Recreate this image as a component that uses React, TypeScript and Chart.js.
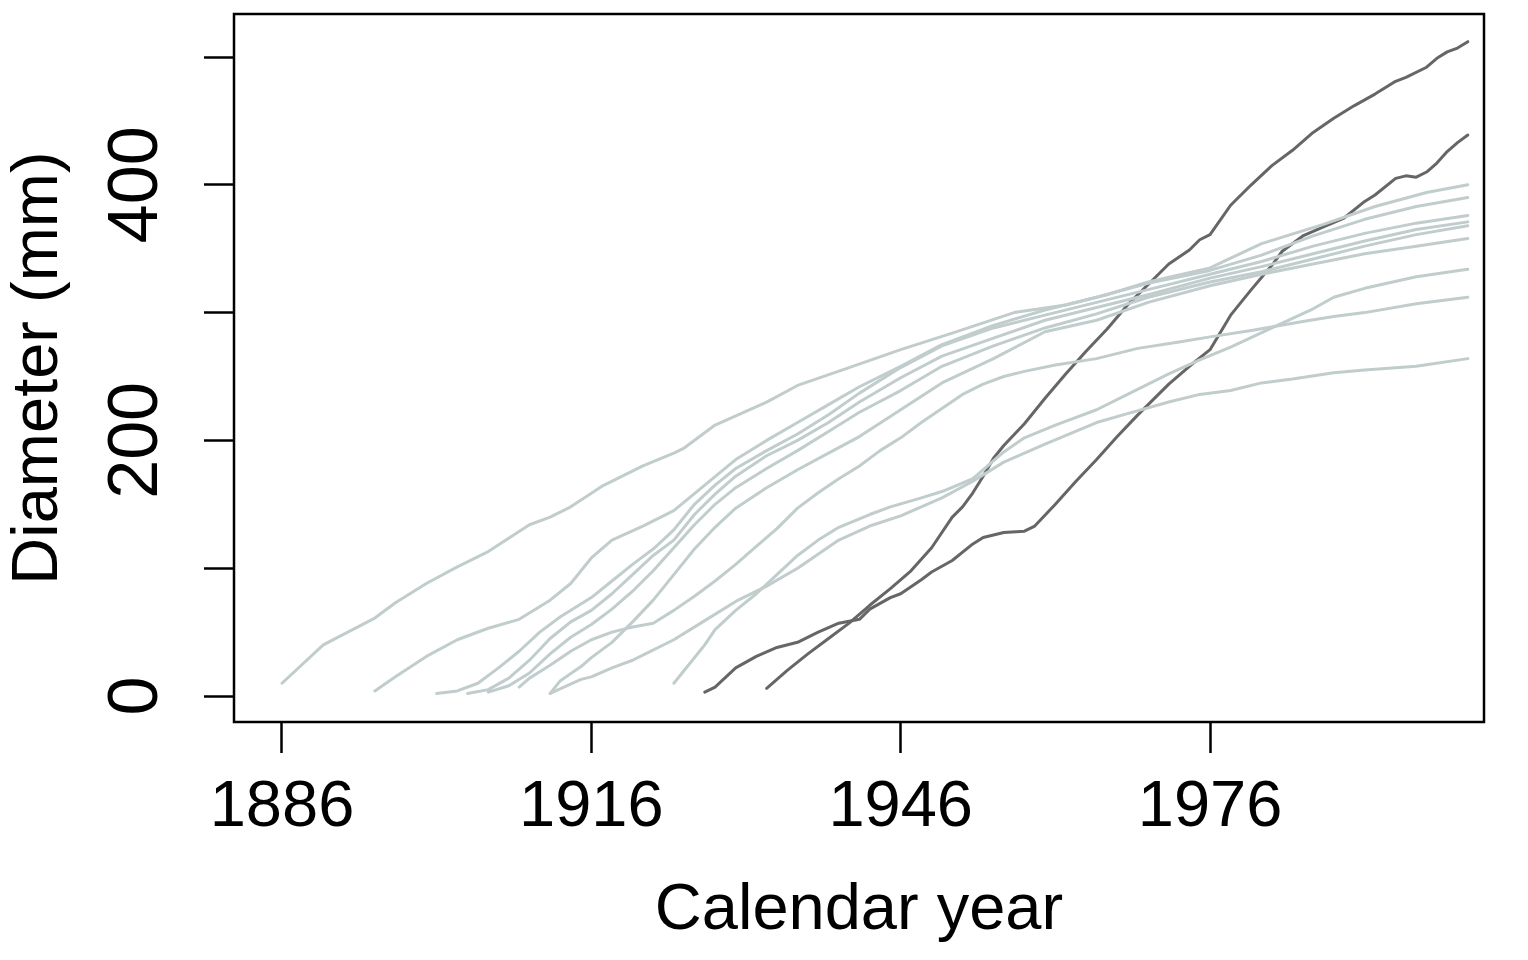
import React, { useEffect, useRef } from 'react';
import { Chart, registerables } from 'chart.js';

Chart.register(...registerables);

// ---- axis ticks ----
const xTickValues = [1886, 1916, 1946, 1976];
const yTickValues = [0, 100, 200, 300, 400, 500];
const yLabelValues = [0, 200, 400];

// ---- grey trees (year, diameter mm) ----
const g1Years = [1886, 1890, 1895, 1897, 1900, 1903, 1906, 1910, 1912, 1914, 1917, 1921, 1924, 1925, 1928, 1933, 1936, 1941, 1946, 1951, 1957, 1962, 1966, 1970, 1976, 1981, 1987, 1992, 1997, 2001];
const g1Vals = [10, 40, 61, 73, 88, 101, 113, 134, 140, 148, 164, 180, 190, 194, 212, 230, 243, 257, 271, 284, 300, 306, 314, 324, 335, 354, 369, 383, 394, 400];

const g2Years = [1895, 1897, 1900, 1903, 1906, 1909, 1912, 1914, 1916, 1918, 1921, 1924, 1927, 1930, 1933, 1936, 1939, 1942, 1946, 1950, 1955, 1960, 1965, 1970, 1976, 1981, 1986, 1991, 1996, 2001];
const g2Vals = [4, 15, 31, 44, 53, 60, 75, 88, 108, 122, 133, 145, 165, 185, 200, 214, 228, 242, 258, 275, 290, 302, 312, 323, 333, 345, 360, 373, 383, 390];

const g3Years = [1901, 1903, 1905, 1907, 1909, 1911, 1913, 1916, 1918, 1920, 1922, 1924, 1926, 1928, 1930, 1933, 1936, 1939, 1942, 1946, 1950, 1955, 1960, 1965, 1970, 1976, 1981, 1986, 1991, 1996, 2001];
const g3Vals = [2, 4, 10, 22, 35, 50, 62, 77, 90, 103, 115, 130, 150, 165, 178, 192, 205, 220, 237, 257, 274, 288, 298, 308, 318, 330, 340, 352, 362, 370, 376];

const g4Years = [1904, 1906, 1908, 1910, 1912, 1914, 1916, 1918, 1920, 1922, 1924, 1926, 1928, 1930, 1933, 1936, 1939, 1942, 1946, 1950, 1955, 1960, 1965, 1970, 1976, 1981, 1986, 1991, 1996, 2001];
const g4Vals = [2, 5, 14, 28, 45, 58, 67, 80, 95, 110, 122, 142, 158, 172, 188, 200, 214, 230, 249, 266, 280, 294, 304, 314, 327, 336, 346, 356, 365, 371];

const g5Years = [1906, 1908, 1910, 1912, 1914, 1916, 1918, 1920, 1922, 1924, 1926, 1928, 1930, 1933, 1936, 1939, 1942, 1946, 1950, 1955, 1960, 1965, 1970, 1976, 1981, 1986, 1991, 1996, 2001];
const g5Vals = [3, 8, 18, 33, 46, 56, 68, 82, 98, 116, 134, 150, 163, 178, 192, 207, 222, 239, 258, 274, 288, 299, 312, 324, 332, 342, 352, 361, 368];

const g6Years = [1909, 1910, 1911, 1912, 1914, 1916, 1918, 1920, 1922, 1924, 1926, 1928, 1930, 1932, 1934, 1936, 1938, 1940, 1942, 1944, 1946, 1948, 1950, 1952, 1954, 1956, 1958, 1961, 1965, 1969, 1973, 1976, 1980, 1985, 1988, 1991, 1996, 2001];
const g6Vals = [7, 14, 19, 24, 35, 44, 50, 54, 57, 67, 78, 90, 103, 117, 131, 147, 159, 170, 180, 192, 202, 214, 225, 236, 244, 250, 254, 259, 264, 272, 277, 281, 286, 293, 297, 300, 307, 312];

const g7Years = [1912, 1913, 1915, 1916, 1918, 1920, 1922, 1924, 1926, 1928, 1930, 1933, 1936, 1939, 1942, 1946, 1950, 1955, 1960, 1965, 1970, 1976, 1981, 1986, 1991, 1996, 2001];
const g7Vals = [2, 12, 23, 30, 42, 58, 75, 95, 115, 132, 147, 163, 177, 190, 203, 224, 245, 264, 285, 294, 308, 321, 330, 338, 346, 352, 358];

const g8Years = [1912, 1915, 1916, 1918, 1920, 1921, 1924, 1927, 1930, 1933, 1936, 1940, 1943, 1946, 1950, 1953, 1956, 1960, 1965, 1968, 1972, 1975, 1978, 1981, 1984, 1988, 1991, 1996, 2001];
const g8Vals = [2, 13, 15, 22, 28, 32, 44, 59, 74, 86, 100, 122, 133, 141, 155, 168, 183, 197, 214, 221, 230, 236, 239, 245, 248, 253, 255, 258, 264];

const g9Years = [1924, 1925, 1927, 1928, 1930, 1932, 1934, 1936, 1938, 1940, 1943, 1945, 1948, 1950, 1953, 1956, 1958, 1961, 1965, 1968, 1972, 1975, 1978, 1982, 1986, 1988, 1991, 1996, 2001];
const g9Vals = [10, 20, 40, 52, 67, 80, 95, 110, 122, 132, 142, 148, 155, 160, 170, 191, 202, 212, 224, 236, 252, 263, 273, 288, 303, 312, 319, 328, 334];

// ---- highlighted trees ----
const d1Years = [1927, 1928, 1930, 1932, 1934, 1936, 1938, 1940, 1942, 1943, 1945, 1946, 1948, 1949, 1951, 1953, 1954, 1956, 1958, 1959, 1961, 1963, 1965, 1967, 1969, 1971, 1972, 1974, 1976, 1978, 1980, 1982, 1983, 1985, 1987, 1989, 1991, 1992, 1994, 1995, 1996, 1997, 1998, 1999, 2000, 2001];
const d1Vals = [3, 7, 22, 31, 38, 42, 50, 57, 60, 68, 77, 80, 91, 97, 106, 119, 124, 128, 129, 133, 150, 168, 185, 203, 220, 236, 244, 258, 271, 298, 318, 337, 348, 360, 367, 374, 387, 392, 405, 407, 406, 410, 417, 426, 433, 439];

const d2Years = [1933, 1935, 1937, 1939, 1941, 1943, 1945, 1947, 1949, 1951, 1952, 1953, 1954, 1955, 1956, 1958, 1960, 1962, 1964, 1966, 1968, 1970, 1972, 1974, 1975, 1976, 1978, 1980, 1982, 1984, 1986, 1988, 1990, 1992, 1994, 1995, 1997, 1998, 1999, 2000, 2001];
const d2Vals = [6, 20, 33, 45, 57, 71, 84, 98, 116, 140, 148, 159, 172, 186, 196, 213, 233, 252, 270, 287, 306, 322, 338, 349, 357, 361, 384, 400, 415, 427, 441, 452, 462, 471, 481, 484, 492, 499, 504, 507, 512];

const greySeries = [
  [g1Years, g1Vals], [g2Years, g2Vals], [g3Years, g3Vals], [g4Years, g4Vals],
  [g5Years, g5Vals], [g6Years, g6Vals], [g7Years, g7Vals], [g8Years, g8Vals], [g9Years, g9Vals],
];
const darkSeries = [[d1Years, d1Vals], [d2Years, d2Vals]];

const GREY = '#C1CDCD';
const DARK = '#666666';
const FONT = "'Liberation Sans', Arial, Helvetica, sans-serif";

const toPoints = (years: number[], vals: number[]) => years.map((x, i) => ({ x, y: vals[i] }));

const boxPlugin = {
  id: 'rbox',
  afterDraw(chart: any) {
    const { ctx, chartArea } = chart;
    ctx.save();
    ctx.strokeStyle = '#000';
    ctx.lineWidth = 2.5;
    ctx.strokeRect(chartArea.left, chartArea.top, chartArea.right - chartArea.left, chartArea.bottom - chartArea.top);
    ctx.restore();
  },
};

export default function App() {
  const ref = useRef<HTMLCanvasElement | null>(null);

  useEffect(() => {
    if (!ref.current) return;
    const datasets: any[] = [];
    greySeries.forEach(([ys, vs], i) => {
      datasets.push({
        label: 'grey' + i,
        data: toPoints(ys as number[], vs as number[]),
        borderColor: GREY,
        borderWidth: 3,
        pointRadius: 0,
        fill: false,
      });
    });
    darkSeries.forEach(([ys, vs], i) => {
      datasets.push({
        label: 'dark' + i,
        data: toPoints(ys as number[], vs as number[]),
        borderColor: DARK,
        borderWidth: 3,
        pointRadius: 0,
        fill: false,
      });
    });

    const chart = new Chart(ref.current, {
      type: 'line',
      data: { datasets },
      options: {
        animation: false,
        responsive: false,
        maintainAspectRatio: false,
        devicePixelRatio: 1,
        layout: { padding: { top: 14, right: 44, left: 0, bottom: 0 } },
        plugins: { legend: { display: false }, tooltip: { enabled: false } },
        elements: {
          point: { radius: 0 },
          line: { tension: 0, borderCapStyle: 'round', borderJoinStyle: 'round' },
        },
        scales: {
          x: {
            type: 'linear',
            min: 1881.345,
            max: 2002.57,
            afterBuildTicks: (s: any) => {
              s.ticks = xTickValues.map((v) => ({ value: v }));
            },
            afterFit: (s: any) => {
              s.height = 238;
              s.paddingLeft = 0;
              s.paddingRight = 0;
            },
            border: { display: false },
            grid: {
              display: true,
              drawOnChartArea: false,
              drawTicks: true,
              tickLength: 31,
              tickWidth: 2.5,
              tickColor: '#000',
            },
            ticks: {
              autoSkip: false,
              maxRotation: 0,
              minRotation: 0,
              padding: 16,
              color: '#000',
              font: { family: FONT, size: 65 },
              callback: (v: any) => String(v),
            },
            title: {
              display: true,
              text: 'Calendar year',
              color: '#000',
              font: { family: FONT, size: 65 },
              padding: { top: 0, bottom: 10 },
            },
          },
          y: {
            type: 'linear',
            min: -20.34,
            max: 533.65,
            afterBuildTicks: (s: any) => {
              s.ticks = yTickValues.map((v) => ({ value: v }));
            },
            afterFit: (s: any) => {
              s.width = 234;
              s.paddingTop = 0;
              s.paddingBottom = 0;
            },
            border: { display: false },
            grid: {
              display: true,
              drawOnChartArea: false,
              drawTicks: true,
              tickLength: 30,
              tickWidth: 2.5,
              tickColor: '#000',
            },
            ticks: {
              autoSkip: false,
              minRotation: 90,
              maxRotation: 90,
              crossAlign: 'center',
              padding: 8,
              color: '#000',
              font: { family: FONT, size: 70 },
              callback: (v: any) => (yLabelValues.includes(Number(v)) ? String(v) : ''),
            },
            title: {
              display: true,
              text: 'Diameter (mm)',
              color: '#000',
              font: { family: FONT, size: 65 },
              padding: { top: 0, bottom: 0 },
            },
          },
        },
      } as any,
      plugins: [boxPlugin],
    });
    return () => chart.destroy();
  }, []);

  return (
    <div style={{ position: 'absolute', left: 0, top: 0, width: 1528, height: 960, background: '#fff' }}>
      <canvas ref={ref} width={1528} height={960} style={{ display: 'block', width: 1528, height: 960 }} />
    </div>
  );
}
